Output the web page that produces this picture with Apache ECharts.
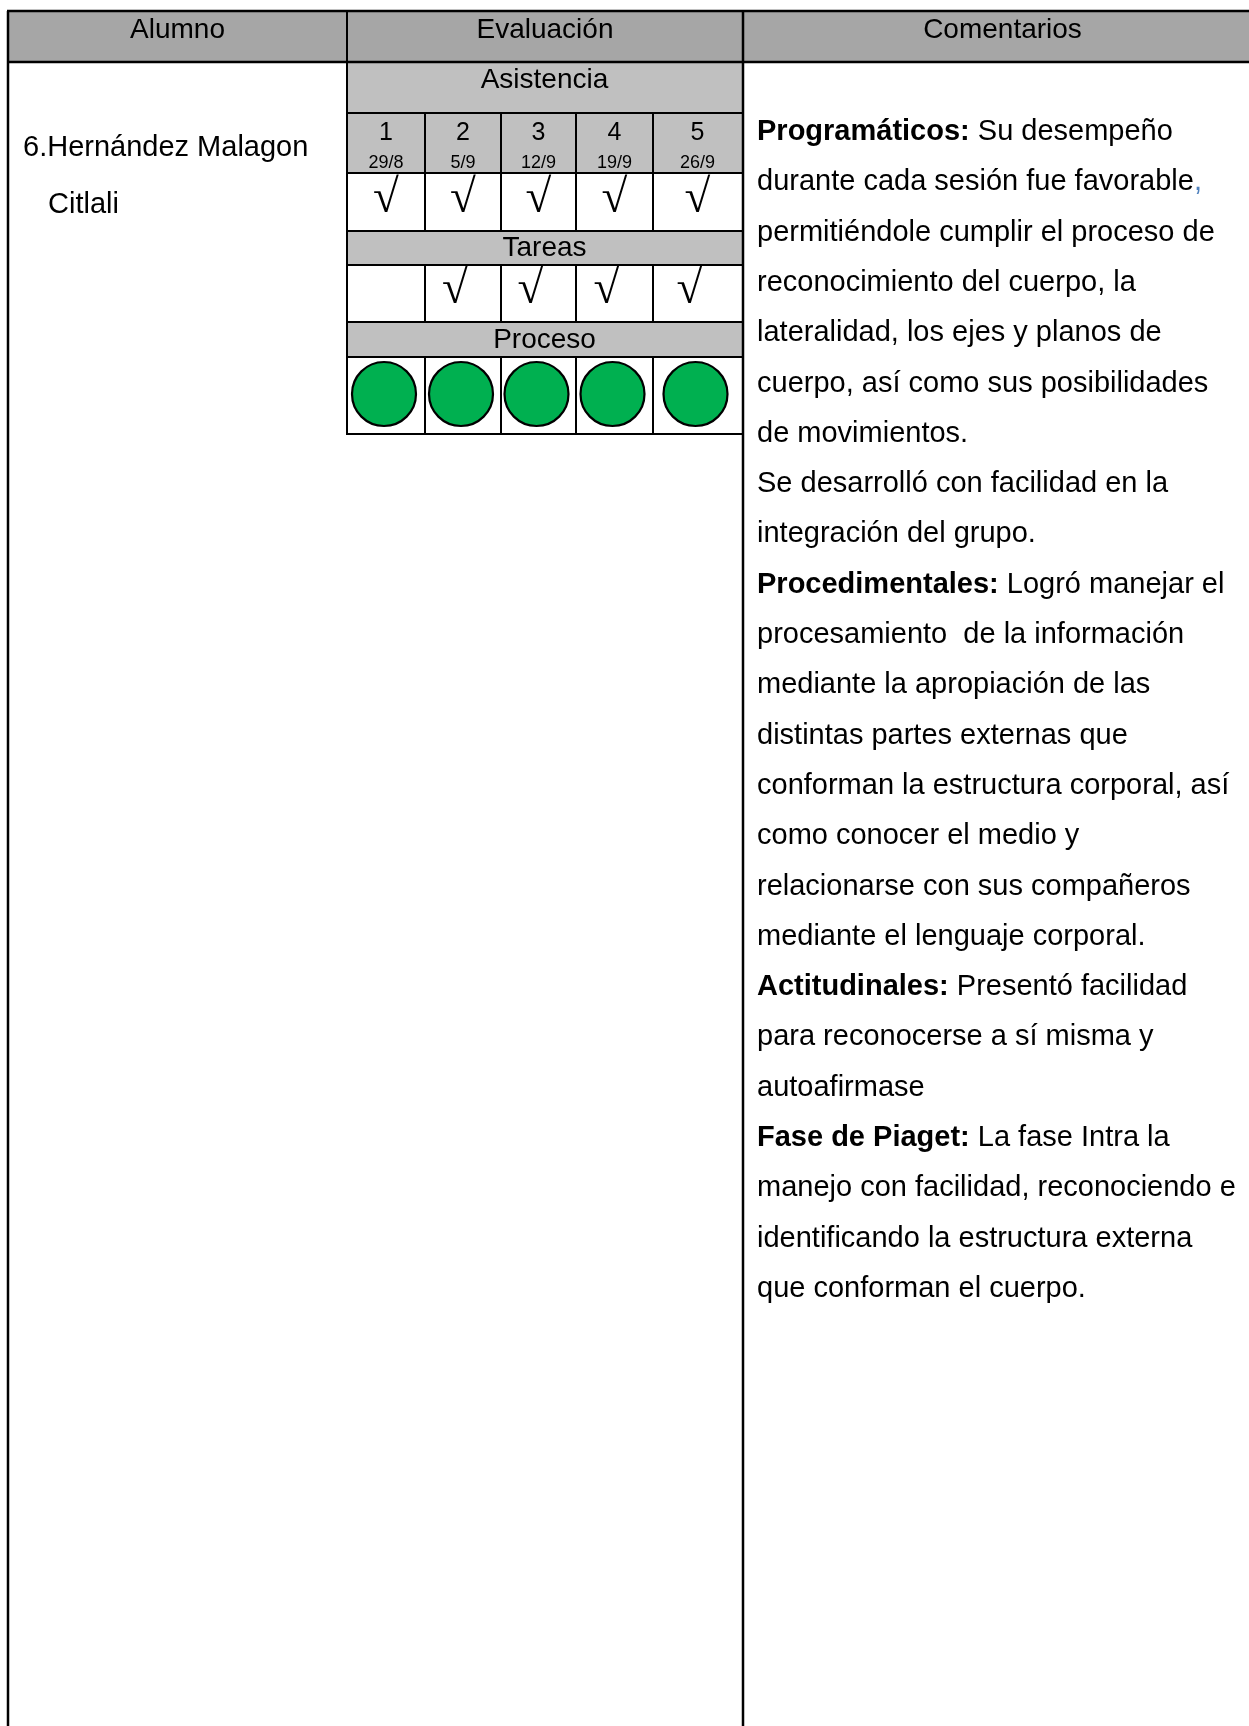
<!DOCTYPE html>
<html>
<head>
<meta charset="utf-8">
<script src="https://cdn.jsdelivr.net/npm/echarts@6/dist/echarts.min.js"></script>
<style>
html,body{margin:0;padding:0;background:#fff;}
#chart{width:1249px;height:1726px;}
</style>
</head>
<body>
<div id="chart"></div>
<script>
// ---------------- data ----------------
const headers = ['Alumno', 'Evaluación', 'Comentarios'];
const studentLines = ['6.Hernández Malagon', 'Citlali'];
const sectionTitles = ['Asistencia', 'Tareas', 'Proceso'];
const sessions = ['1', '2', '3', '4', '5'];
const dates = ['29/8', '5/9', '12/9', '19/9', '26/9'];
const asistencia = [1, 1, 1, 1, 1];
const tareas = [0, 1, 1, 1, 1];
const proceso = [1, 1, 1, 1, 1];
// each comment line: list of [text, kind] (kind: n normal, b bold, c blue)
const commentLines = [
  [['Programáticos:', 'b'], [' Su desempeño', 'n']],
  [['durante cada sesión fue favorable', 'n'], [',', 'c']],
  [['permitiéndole cumplir el proceso de', 'n']],
  [['reconocimiento del cuerpo, la', 'n']],
  [['lateralidad, los ejes y planos de', 'n']],
  [['cuerpo, así como sus posibilidades', 'n']],
  [['de movimientos.', 'n']],
  [['Se desarrolló con facilidad en la', 'n']],
  [['integración del grupo.', 'n']],
  [['Procedimentales:', 'b'], [' Logró manejar el', 'n']],
  [['procesamiento  de la información', 'n']],
  [['mediante la apropiación de las', 'n']],
  [['distintas partes externas que', 'n']],
  [['conforman la estructura corporal, así', 'n']],
  [['como conocer el medio y', 'n']],
  [['relacionarse con sus compañeros', 'n']],
  [['mediante el lenguaje corporal.', 'n']],
  [['Actitudinales:', 'b'], [' Presentó facilidad', 'n']],
  [['para reconocerse a sí misma y', 'n']],
  [['autoafirmase', 'n']],
  [['Fase de Piaget:', 'b'], [' La fase Intra la', 'n']],
  [['manejo con facilidad, reconociendo e', 'n']],
  [['identificando la estructura externa', 'n']],
  [['que conforman el cuerpo.', 'n']]
];

// ---------------- layout ----------------
const W = 1249, H = 1726;
const SANS = '"Liberation Sans", Arial, sans-serif';
const SERIF = '"Liberation Serif", "DejaVu Serif", serif';
const LY = {
  left: 8, right: 1262, top: 11, headBottom: 62, colA: 347, colC: 743, bottom: 1726,
  edges: [347, 425, 501, 576, 653, 742],
  asisTitle: [62, 113], nums: [113, 173], asisChk: [173, 231],
  tarTitle: [231, 265], tarChk: [265, 322], procTitle: [322, 357], circ: [357, 434],
  headTextY: 30, headFont: 28, bodyFont: 29,
  nameX: [23, 48], nameY: [148, 205],
  comX: 757, comY0: 132, comStep: 50.3
};
const headGray = '#a6a6a6', subGray = '#c0c0c0', green = '#00b050', blue = '#4f81bd';

const measureCtx = document.createElement('canvas').getContext('2d');
function textW(t, font) { measureCtx.font = font; return measureCtx.measureText(t).width; }

function T(text, x, y, font, align, fill) {
  return {
    type: 'text',
    style: {
      text: text, x: x, y: y, font: font, fill: fill || '#000',
      textAlign: align || 'center', textVerticalAlign: 'middle',
      align: align || 'center', verticalAlign: 'middle'
    }
  };
}
function Rect(x0, y0, x1, y1, fill) {
  return { type: 'rect', shape: { x: x0, y: y0, width: x1 - x0, height: y1 - y0 }, style: { fill: fill } };
}
function Ln(x1, y1, x2, y2, w) {
  return { type: 'line', shape: { x1: x1, y1: y1, x2: x2, y2: y2 }, style: { stroke: '#000', lineWidth: w || 2 } };
}

function renderFrame(params, api) {
  const c = (x, y) => api.coord([x, y]);
  const ch = [];
  const [hl, ht] = c(LY.left, LY.top);
  const [hr, hb] = c(LY.right, LY.headBottom);
  ch.push(Rect(hl, ht, hr, hb, headGray));
  const g0 = c(LY.edges[0], LY.asisTitle[0]);
  const g1 = c(LY.edges[5], LY.nums[1]);
  ch.push(Rect(g0[0], g0[1], g1[0], g1[1], subGray));
  [LY.tarTitle, LY.procTitle].forEach(r => {
    const a = c(LY.edges[0], r[0]), b = c(LY.edges[5], r[1]);
    ch.push(Rect(a[0], a[1], b[0], b[1], subGray));
  });
  // header texts
  const hf = LY.headFont + 'px ' + SANS;
  const hcx = [(LY.left + LY.colA) / 2, (LY.colA + LY.colC) / 2, (LY.colC + LY.right) / 2];
  headers.forEach((h, i) => { const p = c(hcx[i], LY.headTextY); ch.push(T(h, p[0], p[1], hf)); });
  // section titles
  const gcx = (LY.edges[0] + LY.edges[5]) / 2;
  const sty = [80, 248, 340];
  sectionTitles.forEach((s, i) => { const p = c(gcx, sty[i]); ch.push(T(s, p[0], p[1], hf)); });
  // student name
  const bf = LY.bodyFont + 'px ' + SANS;
  studentLines.forEach((s, i) => { const p = c(LY.nameX[i], LY.nameY[i]); ch.push(T(s, p[0], p[1], bf, 'left')); });
  // lines
  const L = (x1, y1, x2, y2, w) => { const a = c(x1, y1), b = c(x2, y2); ch.push(Ln(a[0], a[1], b[0], b[1], w)); };
  L(LY.left - 1, LY.top, LY.right, LY.top, 2.5);
  L(LY.left - 1, LY.headBottom, LY.right, LY.headBottom, 2.5);
  L(LY.left, LY.top, LY.left, LY.bottom, 2.5);
  L(LY.colC, LY.top, LY.colC, LY.bottom, 2.5);
  L(LY.colA, LY.top, LY.colA, LY.circ[1], 2);
  [LY.nums[0], LY.nums[1], LY.asisChk[1], LY.tarTitle[1], LY.tarChk[1], LY.procTitle[1], LY.circ[1]].forEach(y => {
    L(LY.edges[0] - 1, y, LY.edges[5], y, 2);
  });
  [LY.nums, LY.asisChk, LY.tarChk, LY.circ].forEach(r => {
    LY.edges.slice(1, 5).forEach(x => L(x, r[0], x, r[1], 2));
  });
  return { type: 'group', children: ch };
}

function renderSession(params, api) {
  const i = api.value(0);
  const c = (x, y) => api.coord([x, y]);
  const cx = (LY.edges[i] + LY.edges[i + 1]) / 2;
  const ch = [];
  let p = c(cx, 133); ch.push(T(sessions[i], p[0], p[1], '25px ' + SANS));
  p = c(cx, 163); ch.push(T(dates[i], p[0], p[1], '18px ' + SANS));
  const chkFont = '47px ' + SERIF;
  if (api.value(1)) { p = c(cx, 200); ch.push(T('√', p[0], p[1], chkFont)); }
  if (api.value(2)) { p = c(cx - 8, 291); ch.push(T('√', p[0], p[1], chkFont)); }
  if (api.value(3)) {
    p = c(cx - 2, 394);
    const r = api.size([32, 0])[0];
    ch.push({ type: 'circle', shape: { cx: p[0], cy: p[1], r: r }, style: { fill: green, stroke: '#000', lineWidth: 2.2 } });
  }
  return { type: 'group', children: ch };
}

function renderComment(params, api) {
  const k = api.value(0);
  const segs = commentLines[k];
  const y = LY.comY0 + k * LY.comStep;
  let x = LY.comX;
  const ch = [];
  segs.forEach(s => {
    const font = (s[1] === 'b' ? 'bold ' : '') + LY.bodyFont + 'px ' + SANS;
    const p = api.coord([x, y]);
    ch.push(T(s[0], p[0], p[1], font, 'left', s[1] === 'c' ? blue : '#000'));
    x += textW(s[0], font);
  });
  return { type: 'group', children: ch };
}

const chart = echarts.init(document.getElementById('chart'), null, { renderer: 'canvas', width: W, height: H });
chart.setOption({
  animation: false,
  backgroundColor: '#fff',
  grid: { left: 0, right: 0, top: 0, bottom: 0 },
  xAxis: { type: 'value', min: 0, max: W, show: false },
  yAxis: { type: 'value', min: 0, max: H, inverse: true, show: false },
  series: [
    { type: 'custom', name: 'frame', renderItem: renderFrame, data: [[0]], silent: true, clip: false },
    { type: 'custom', name: 'sesiones', renderItem: renderSession, clip: false,
      data: sessions.map((s, i) => [i, asistencia[i], tareas[i], proceso[i]]) },
    { type: 'custom', name: 'comentarios', renderItem: renderComment, clip: false,
      data: commentLines.map((l, i) => [i]) }
  ]
});
</script>
</body>
</html>
